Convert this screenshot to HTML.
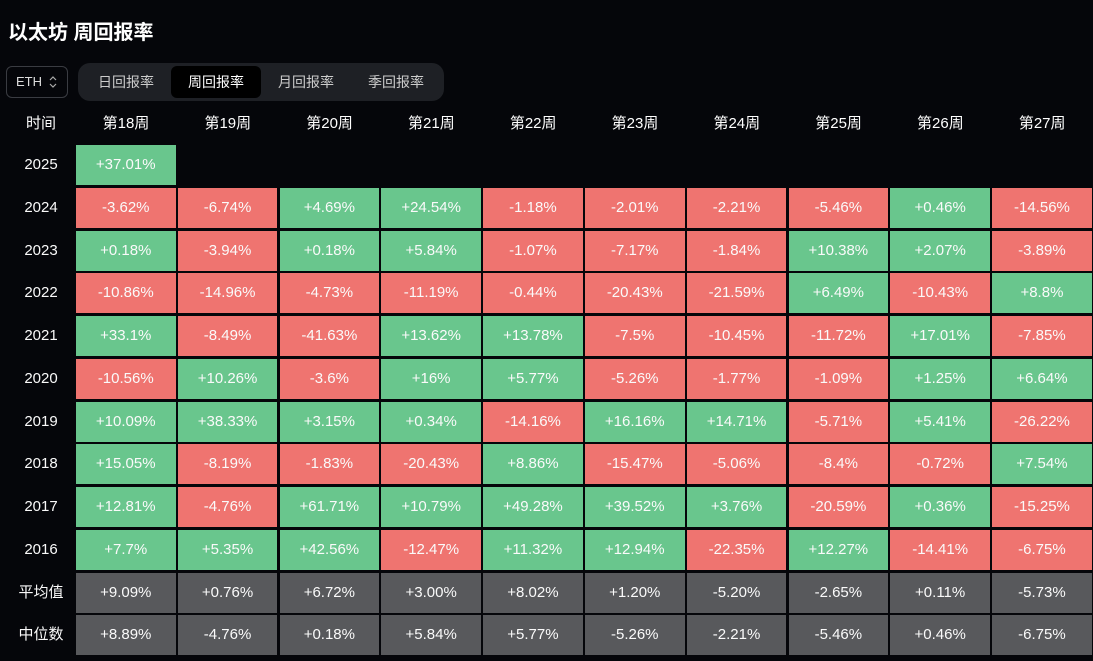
<!DOCTYPE html>
<html><head><meta charset="utf-8"><style>
body{margin:0;width:1093px;height:661px;background:#05060a;overflow:hidden;font-family:"Liberation Sans","Noto Sans CJK SC",sans-serif;color:#fff;position:relative}
.abs{position:absolute}
.title{left:8px;top:16px;font-size:20px;font-weight:bold}
.eth{left:6px;top:66px;width:62px;height:32px;border:1px solid #3a3c42;border-radius:6px;box-sizing:border-box;font-size:13px;line-height:30px;padding-left:9px;color:#ddd}
.chev{position:absolute;left:42px;top:7px;width:8px;height:16px}
.tabs{left:78px;top:63px;width:366px;height:38px;background:#1e2025;border-radius:12px}
.tab{top:3px;width:90px;height:32px;line-height:32px;text-align:center;font-size:14px;color:#ccc;border-radius:6px}
.tab.on{background:#000;color:#fff}
.hd{font-size:15px;text-align:center;width:100px;top:112px;height:20px}
.cell{height:40px;line-height:40px;text-align:center;font-size:15px;color:#fafafa}
.yr{left:0;width:82px;text-align:center;font-size:15px}
</style></head><body>
<div class="abs title">以太坊 周回报率</div>
<div class="abs eth">ETH<svg class="chev" viewBox="0 0 8 16"><path d="M1 6 L4 3 L7 6 M1 10 L4 13 L7 10" stroke="#aaa" stroke-width="1.2" fill="none"/></svg></div>
<div class="abs tabs">
<div class="abs tab" style="left:3px">日回报率</div>
<div class="abs tab on" style="left:93px">周回报率</div>
<div class="abs tab" style="left:183px">月回报率</div>
<div class="abs tab" style="left:273px">季回报率</div>
</div>
<div id="grid"></div>
<script>
const weeks=["第18周","第19周","第20周","第21周","第22周","第23周","第24周","第25周","第26周","第27周"];
const rowLabels=["2025","2024","2023","2022","2021","2020","2019","2018","2017","2016","平均值","中位数"];
const r2025=["+37.01%"];
const r2024=["-3.62%","-6.74%","+4.69%","+24.54%","-1.18%","-2.01%","-2.21%","-5.46%","+0.46%","-14.56%"];
const r2023=["+0.18%","-3.94%","+0.18%","+5.84%","-1.07%","-7.17%","-1.84%","+10.38%","+2.07%","-3.89%"];
const r2022=["-10.86%","-14.96%","-4.73%","-11.19%","-0.44%","-20.43%","-21.59%","+6.49%","-10.43%","+8.8%"];
const r2021=["+33.1%","-8.49%","-41.63%","+13.62%","+13.78%","-7.5%","-10.45%","-11.72%","+17.01%","-7.85%"];
const r2020=["-10.56%","+10.26%","-3.6%","+16%","+5.77%","-5.26%","-1.77%","-1.09%","+1.25%","+6.64%"];
const r2019=["+10.09%","+38.33%","+3.15%","+0.34%","-14.16%","+16.16%","+14.71%","-5.71%","+5.41%","-26.22%"];
const r2018=["+15.05%","-8.19%","-1.83%","-20.43%","+8.86%","-15.47%","-5.06%","-8.4%","-0.72%","+7.54%"];
const r2017=["+12.81%","-4.76%","+61.71%","+10.79%","+49.28%","+39.52%","+3.76%","-20.59%","+0.36%","-15.25%"];
const r2016=["+7.7%","+5.35%","+42.56%","-12.47%","+11.32%","+12.94%","-22.35%","+12.27%","-14.41%","-6.75%"];
const avg=["+9.09%","+0.76%","+6.72%","+3.00%","+8.02%","+1.20%","-5.20%","-2.65%","+0.11%","-5.73%"];
const med=["+8.89%","-4.76%","+0.18%","+5.84%","+5.77%","-5.26%","-2.21%","-5.46%","+0.46%","-6.75%"];
const rows=[r2025,r2024,r2023,r2022,r2021,r2020,r2019,r2018,r2017,r2016,avg,med];
const g=document.getElementById('grid');
const X0=76,PX=101.8,Y0=145,PY=42.75;
const h=document.createElement('div');h.className='abs hd';h.style.left='0px';h.style.width='82px';h.textContent='时间';


g.appendChild(h);
weeks.forEach((w,i)=>{const d=document.createElement('div');d.className='abs hd';d.style.left=(X0+i*PX)+'px';d.textContent=w;


g.appendChild(d);});
rows.forEach((r,ri)=>{
 const y=Y0+ri*PY;
 const l=document.createElement('div');l.className='abs cell yr';l.style.top=y+'px';l.textContent=rowLabels[ri];
 
 
 g.appendChild(l);
 r.forEach((v,ci)=>{
  const c=document.createElement('div');c.className='abs cell';
  c.style.left=(X0+ci*PX)+'px';c.style.top=y+'px';c.style.width=(PX-2.3)+'px';
  c.style.background=ri>=10?'#58595c':(v.startsWith('-')?'#ef7470':'#69c68d');
  c.textContent=v;
  
  
  g.appendChild(c);
 });
});
</script>
</body></html>
